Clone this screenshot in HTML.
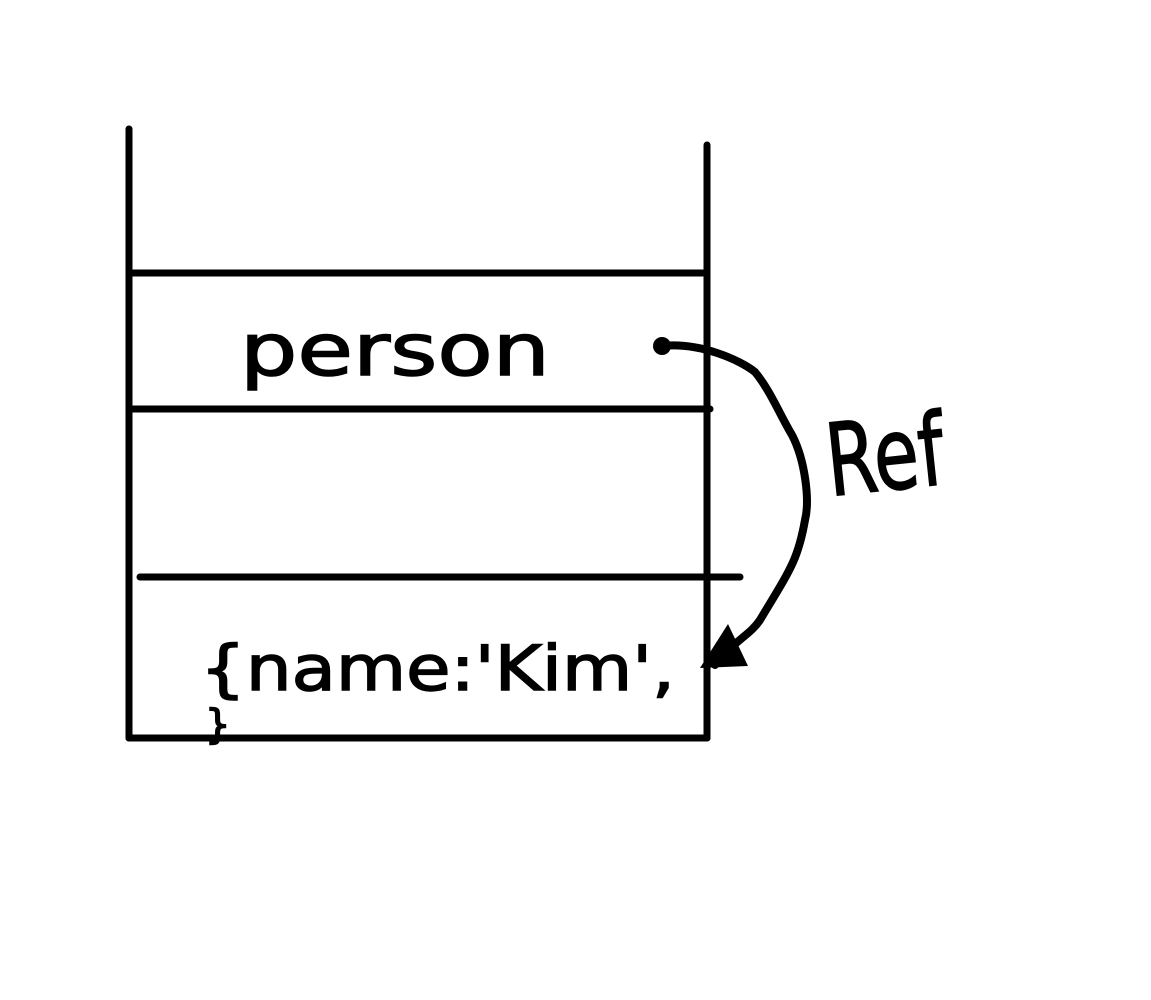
<!DOCTYPE html>
<html><head><meta charset="utf-8"><style>
html,body{margin:0;padding:0;background:#fff;width:1151px;height:1000px;overflow:hidden}
</style></head><body>
<svg width="1151" height="1000" viewBox="0 0 1151 1000" xmlns="http://www.w3.org/2000/svg">
<g stroke="#000" stroke-width="7" stroke-linecap="round" fill="none">
<line x1="129" y1="129" x2="129" y2="738"/>
<line x1="707" y1="145" x2="707" y2="738"/>
<line x1="129" y1="738" x2="707" y2="738"/>
<line x1="133" y1="273" x2="703" y2="273"/>
<line x1="133" y1="409" x2="710" y2="409"/>
<line x1="140" y1="577" x2="740" y2="577"/>
<path stroke-width="8" d="M662 346 C700 342 740 360 755 372 C770 390 780 415 792 435 C805 460 810 500 805 520 C798 560 790 570 760 620 C750 635 735 640 715 665"/>
</g>
<circle cx="662" cy="346" r="9" fill="#000"/>
<polygon points="700,668 728,624 748,666" fill="#000"/>
<g font-family="'DejaVu Sans', 'Liberation Sans', sans-serif" fill="#000" stroke="#000" stroke-width="1.5">
<text x="240" y="375" font-size="72" textLength="310" lengthAdjust="spacingAndGlyphs">person</text>
<text x="200" y="690" font-size="62" textLength="475" lengthAdjust="spacingAndGlyphs">{name:'Kim',</text>
<text x="205" y="738" font-size="40">}</text>
<text x="0" y="0" font-size="100" transform="translate(830,496) rotate(-6)" textLength="118" lengthAdjust="spacingAndGlyphs">Ref</text>
</g>
</svg>
</body></html>
